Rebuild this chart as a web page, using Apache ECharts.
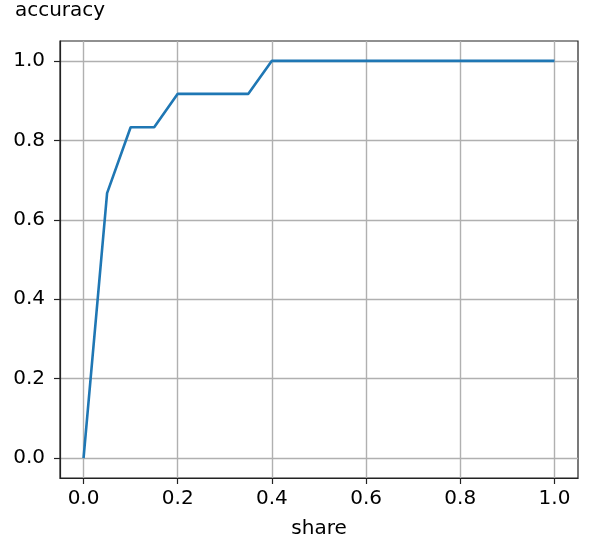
<!DOCTYPE html>
<html>
<head>
<meta charset="utf-8">
<script src="https://cdn.jsdelivr.net/npm/echarts@6/dist/echarts.min.js"></script>
<style>
html,body{margin:0;padding:0;background:#fff;}
#chart{width:592px;height:538px;}
</style>
</head>
<body>
<div id="chart"></div>
<script>
var shares = [0.0, 0.05, 0.1, 0.15, 0.2, 0.25, 0.3, 0.35, 0.4, 0.45, 0.5, 0.55, 0.6, 0.65, 0.7, 0.75, 0.8, 0.85, 0.9, 0.95, 1.0];
var accuracy = [0.0, 0.667, 0.833, 0.833, 0.917, 0.917, 0.917, 0.917, 1.0, 1.0, 1.0, 1.0, 1.0, 1.0, 1.0, 1.0, 1.0, 1.0, 1.0, 1.0, 1.0];
var xTicks = [0.0, 0.2, 0.4, 0.6, 0.8, 1.0];
var yTicks = [0.0, 0.2, 0.4, 0.6, 0.8, 1.0];
var xLabel = 'share';
var yLabel = 'accuracy';

var font = 'DejaVu Sans';
var fs = 20;
var chart = echarts.init(document.getElementById('chart'), null, {renderer: 'canvas'});
var pts = shares.map(function (s, i) { return [s, accuracy[i]]; });
chart.setOption({
  animation: false,
  backgroundColor: '#fff',
  grid: {left: 60, right: 14, top: 41, bottom: 60, outerBoundsMode: 'none', containLabel: false,
    show: true, borderColor: '#222', borderWidth: 1.2, backgroundColor: 'transparent'},
  xAxis: {
    type: 'value', min: -0.05, max: 1.05,
    name: xLabel, nameLocation: 'middle', nameGap: 41,
    nameTextStyle: {fontFamily: font, fontSize: fs, color: '#000'},
    axisLine: {show: true, onZero: false, lineStyle: {color: '#222', width: 1.2}},
    axisTick: {show: true, inside: false, length: 6, customValues: xTicks, lineStyle: {color: '#222', width: 1.2}},
    axisLabel: {customValues: xTicks, margin: 11, fontFamily: font, fontSize: fs, color: '#000',
      formatter: function (v) { return v.toFixed(1); }},
    splitLine: {show: true, lineStyle: {color: '#b0b0b0', width: 1.4}}
  },
  yAxis: {
    type: 'value', min: -0.05, max: 1.05,
    name: yLabel, nameLocation: 'end', nameGap: 20,
    nameTextStyle: {fontFamily: font, fontSize: fs, color: '#000', align: 'center'},
    axisLine: {show: true, onZero: false, lineStyle: {color: '#222', width: 1.2}},
    axisTick: {show: true, inside: false, length: 6, customValues: yTicks, lineStyle: {color: '#222', width: 1.2}},
    axisLabel: {customValues: yTicks, margin: 15, fontFamily: font, fontSize: fs, color: '#000',
      formatter: function (v) { return v.toFixed(1); }},
    splitLine: {show: true, lineStyle: {color: '#b0b0b0', width: 1.4}}
  },
  series: [{
    type: 'line', data: pts, showSymbol: false, symbol: 'none',
    lineStyle: {color: '#1f77b4', width: 2.6},
    z: 3
  }]
});
</script>
</body>
</html>
